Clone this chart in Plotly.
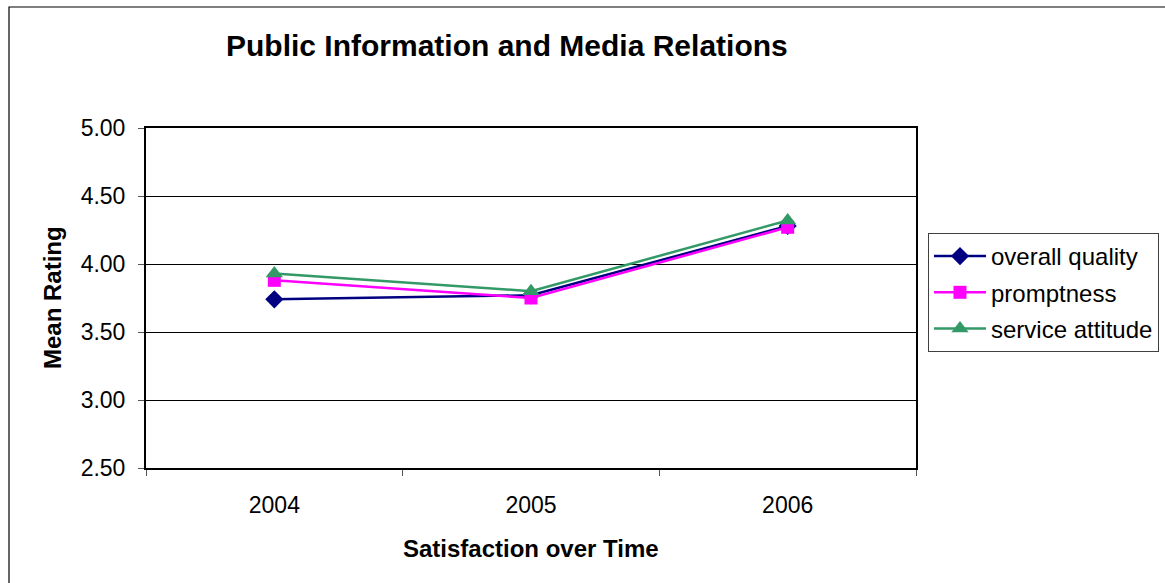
import plotly.graph_objects as go

# Survey years and mean ratings per dimension
years = ["2004", "2005", "2006"]
overall_quality = [3.74, 3.77, 4.28]
promptness = [3.88, 3.75, 4.27]
service_attitude = [3.93, 3.80, 4.32]
y_ticks = [2.5, 3.0, 3.5, 4.0, 4.5, 5.0]

FONT = "Arial, Liberation Sans, sans-serif"

W, H = 1165, 583
L, R, T, B = 146, 916, 128, 468  # plot area in pixels


def px_x(x):
    return (x - L) / (R - L)


def px_y(y):
    return (B - y) / (B - T)


fig = go.Figure()

series = [
    ("overall quality", overall_quality, "#000080", "diamond", 14),
    ("promptness", promptness, "#FF00FF", "square", 13),
    ("service attitude", service_attitude, "#339966", "triangle-up", 15),
]
for name, vals, color, sym, size in series:
    fig.add_trace(go.Scatter(
        x=years, y=vals, name=name, mode="lines+markers",
        legendgroup=name,
        line=dict(color=color, width=2.5),
        marker=dict(symbol=sym, size=size, color=color),
    ))

fig.update_layout(
    width=W, height=H,
    margin=dict(l=L, r=W - R, t=T, b=H - B, autoexpand=False),
    paper_bgcolor="white", plot_bgcolor="white",
    font=dict(family=FONT, size=23, color="black"),
    showlegend=True,
    legend=dict(
        x=px_x(928), y=px_y(233), xanchor="left", yanchor="top",
        bordercolor="#404040", borderwidth=1,
        font=dict(size=24, family=FONT),
        tracegroupgap=2, itemwidth=52,
    ),
    annotations=[
        dict(text="<b>Public Information and Media Relations</b>",
             x=px_x(507), y=px_y(45), xref="paper", yref="paper",
             xanchor="center", yanchor="middle",
             showarrow=False, font=dict(size=30, family=FONT)),
        dict(text="<b>Satisfaction over Time</b>",
             x=px_x(531), y=px_y(548), xref="paper", yref="paper",
             xanchor="center", yanchor="middle",
             showarrow=False, font=dict(size=24, family=FONT)),
        dict(text="<b>Mean Rating</b>",
             x=px_x(52), y=px_y(298), xref="paper", yref="paper",
             xanchor="center", yanchor="middle",
             showarrow=False, textangle=-90, font=dict(size=24, family=FONT)),
    ],
    shapes=[
        dict(type="rect", xref="paper", yref="paper",
             x0=px_x(9), x1=px_x(1200), y0=px_y(620), y1=px_y(7),
             line=dict(color="black", width=1.2), layer="below"),
    ],
)

fig.update_xaxes(
    type="category", range=[-0.5, 2.5],
    showline=True, linecolor="black", linewidth=2, mirror=True,
    ticks="outside", tickson="boundaries", ticklen=6, tickcolor="#555",
    showgrid=False, zeroline=False,
    tickfont=dict(size=23, family=FONT), ticklabelstandoff=15,
)
fig.update_yaxes(
    range=[2.5, 5.0], tickvals=y_ticks,
    ticktext=[f"{v:.2f}" for v in y_ticks],
    showline=True, linecolor="black", linewidth=2, mirror=True,
    ticks="outside", ticklen=6, tickcolor="#555",
    showgrid=True, gridcolor="black", gridwidth=1, zeroline=False,
    tickfont=dict(size=23, family=FONT), ticklabelstandoff=8,
)

fig.write_html("out.html")
